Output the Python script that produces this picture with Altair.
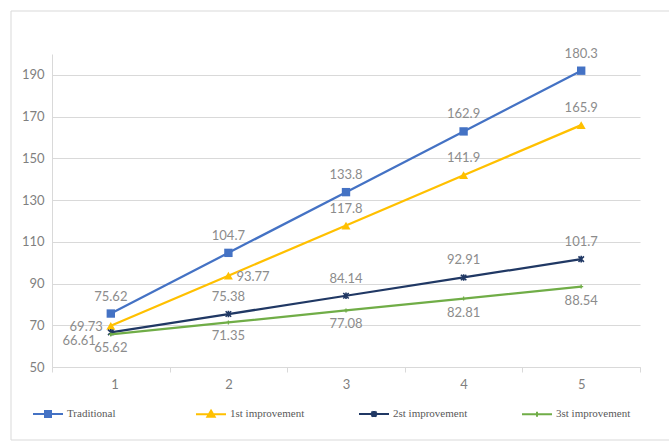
import altair as alt
import pandas as pd

# ---- data ----
xs = [1, 2, 3, 4, 5]
series_names = ["Traditional", "1st improvement", "2st improvement", "3st improvement"]
traditional = [75.62, 104.7, 133.8, 162.9, 192.0]
traditional_labels = ["75.62", "104.7", "133.8", "162.9", "180.3"]
first_imp = [69.73, 93.77, 117.8, 141.9, 165.9]
second_imp = [66.61, 75.38, 84.14, 92.91, 101.7]
third_imp = [65.62, 71.35, 77.08, 82.81, 88.54]
y_ticks = [50, 70, 90, 110, 130, 150, 170, 190]

# label placement for each series
place_trad = ["above", "above", "above", "above", "above"]
place_first = ["left", "right", "above", "above", "above"]
place_second = ["leftlow", "above", "above", "above", "above"]
place_third = ["below", "below", "below", "below", "below"]

colors = ["#4472C4", "#FFC000", "#203864", "#70AD47"]

rows = []
for name, vals, labs, places in [
    ("Traditional", traditional, traditional_labels, place_trad),
    ("1st improvement", first_imp, [f"{v:g}" for v in first_imp], place_first),
    ("2st improvement", second_imp, [f"{v:g}" for v in second_imp], place_second),
    ("3st improvement", third_imp, [f"{v:g}" for v in third_imp], place_third),
]:
    for x, v, l, p in zip(xs, vals, labs, places):
        rows.append({"x": x, "value": v, "label": l, "series": name, "place": p})
df = pd.DataFrame(rows)
legend_df = pd.DataFrame({"name": series_names})

W, H = 588, 313
x_scale = alt.Scale(domain=[0.5, 5.5], nice=False, zero=False)
y_scale = alt.Scale(domain=[50, 200], nice=False, zero=False)

x_enc = alt.X(
    "x:Q", scale=x_scale,
    axis=alt.Axis(values=[0.5, 1.5, 2.5, 3.5, 4.5, 5.5],
                  labelExpr="datum.value < 5 ? format(datum.value + 0.5, 'd') : ''",
                  labelOffset=W / 10, grid=False, domainColor="#d9d9d9", tickColor="#d9d9d9",
                  tickSize=5, labelColor="#7f7f7f", labelFont="Lato", labelFontSize=13,
                  labelPadding=6, title=None),
)
y_enc = alt.Y(
    "value:Q", scale=y_scale,
    axis=alt.Axis(values=y_ticks, grid=True, gridColor="#d9d9d9", domain=True,
                  domainColor="#d9d9d9", ticks=False, labelColor="#7f7f7f",
                  labelFont="Lato", labelFontSize=13, labelPadding=8, title=None),
)

# light frame around the whole figure (open on the right, as in the reference)
frame = alt.Chart(pd.DataFrame({"k": [0]})).mark_rect(
    fill=None, stroke="#d9d9d9", strokeWidth=1
).encode(x=alt.value(-41), x2=alt.value(630), y=alt.value(-43), y2=alt.value(386))

base = alt.Chart(df).encode(x=x_enc, y=y_enc)

layers = [frame]
marker_specs = [
    dict(shape="square", size=70, filled=True),
    dict(shape="triangle-up", size=80, filled=True),
    dict(shape="M-1,-1L1,1M-1,1L1,-1M0,-1.2L0,1.2", size=30, filled=False, strokeWidth=1.6),
    dict(shape="M-1,0L1,0M0,-1L0,1", size=16, filled=False, strokeWidth=1.3),
]
for name, col, spec in zip(series_names, colors, marker_specs):
    sub = base.transform_filter(alt.datum.series == name)
    layers.append(sub.mark_line(strokeWidth=2.25, color=col))
    layers.append(sub.mark_point(opacity=1, color=col, **spec))

label_style = dict(font="Lato", fontSize=13, color="#8c8c8c")
place_specs = {
    "above": dict(dy=-17, align="center"),
    "below": dict(dy=14, align="center"),
    "left": dict(dx=-8, align="right", dy=1),
    "right": dict(dx=8, align="left", dy=1),
    "leftlow": dict(dx=-15, dy=9, align="right"),
}
for p, spec in place_specs.items():
    layers.append(
        base.transform_filter(alt.datum.place == p)
        .mark_text(baseline="middle", **label_style, **spec)
        .encode(text="label:N")
    )

legend_paths = [
    "M-1,0L1,0M-0.2,-0.2L0.2,-0.2L0.2,0.2L-0.2,0.2Z",
    "M-1,0L1,0M0,-0.24L0.24,0.17L-0.24,0.17Z",
    "M-1,0L1,0M-0.17,-0.17L0.17,0.17M-0.17,0.17L0.17,-0.17M0,-0.2L0,0.2",
    "M-1,0L1,0M0,-0.17L0,0.17",
]
legend = alt.Legend(
    orient="none", legendX=-20, legendY=344, direction="horizontal", columns=4,
    gridAlign="all", columnPadding=50, symbolSize=900, symbolStrokeWidth=2,
    labelFont="Liberation Serif", labelFontSize=11, labelColor="#595959",
    title=None, padding=0, labelOffset=3,
)
legend_layer = alt.Chart(legend_df).transform_filter("false").mark_point(opacity=1).encode(
    shape=alt.Shape("name:N", scale=alt.Scale(domain=series_names, range=legend_paths), legend=legend),
    stroke=alt.Stroke("name:N", scale=alt.Scale(domain=series_names, range=colors), legend=legend),
    fill=alt.Fill("name:N", scale=alt.Scale(domain=series_names, range=colors), legend=legend),
)
layers.append(legend_layer)

chart = alt.layer(*layers).properties(
    width=W, height=H,
    autosize=alt.AutoSizeParams(type="none"),
    padding={"left": 52, "top": 54, "right": 29, "bottom": 78},
).configure_view(stroke=None)

chart.save("out.html", embed_options={"renderer": "svg", "actions": False})
